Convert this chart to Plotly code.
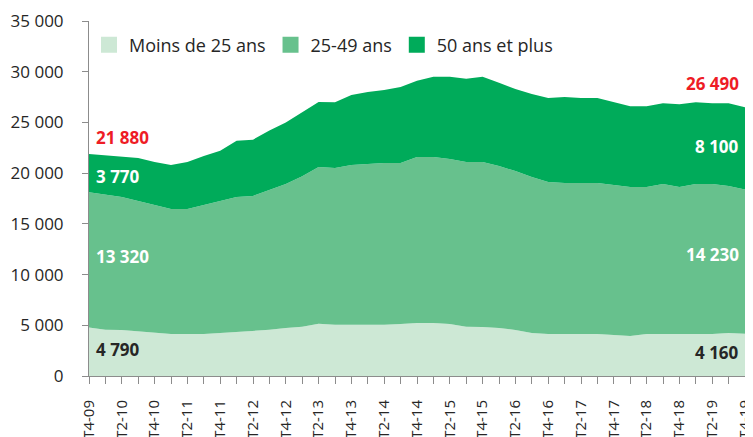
import plotly.graph_objects as go

quarters = [
    "T4-09", "T1-10", "T2-10", "T3-10", "T4-10", "T1-11", "T2-11", "T3-11", "T4-11",
    "T1-12", "T2-12", "T3-12", "T4-12", "T1-13", "T2-13", "T3-13", "T4-13",
    "T1-14", "T2-14", "T3-14", "T4-14", "T1-15", "T2-15", "T3-15", "T4-15",
    "T1-16", "T2-16", "T3-16", "T4-16", "T1-17", "T2-17", "T3-17", "T4-17",
    "T1-18", "T2-18", "T3-18", "T4-18", "T1-19", "T2-19", "T3-19", "T4-19",
]
tick_labels = [
    "T4-09", "", "T2-10", "", "T4-10", "", "T2-11", "", "T4-11",
    "", "T2-12", "", "T4-12", "", "T2-13", "", "T4-13",
    "", "T2-14", "", "T4-14", "", "T2-15", "", "T4-15",
    "", "T2-16", "", "T4-16", "", "T2-17", "", "T4-17",
    "", "T2-18", "", "T4-18", "", "T2-19", "", "T4-19",
]

moins_25 = [4790, 4560, 4540, 4400, 4250, 4150, 4150, 4150, 4250, 4350, 4450, 4550, 4730,
            4850, 5150, 5050, 5050, 5050, 5050, 5130, 5230, 5230, 5130, 4850, 4830, 4730,
            4540, 4240, 4140, 4140, 4140, 4140, 4040, 3950, 4140, 4140, 4140, 4140, 4140,
            4240, 4160]
age_25_49 = [13320, 13290, 13110, 12850, 12610, 12320, 12320, 12710, 13000, 13300, 13300,
             13790, 14200, 14850, 15450, 15450, 15750, 15850, 15950, 15870, 16370, 16370,
             16270, 16250, 16270, 15970, 15660, 15380, 14990, 14890, 14890, 14890, 14790,
             14690, 14500, 14790, 14500, 14790, 14790, 14500, 14230]
plus_50 = [3770, 3900, 3950, 4250, 4240, 4330, 4630, 4840, 4950, 5550, 5550, 5860, 6070,
           6300, 6420, 6500, 6900, 7100, 7200, 7500, 7500, 7900, 8100, 8200, 8400, 8200,
           8100, 8180, 8270, 8470, 8370, 8370, 8170, 7960, 7960, 7970, 8160, 8070, 7970,
           8160, 8100]

series_names = ["Moins de 25 ans", "25-49 ans", "50 ans et plus"]
series_values = [moins_25, age_25_49, plus_50]
colors = ["#CDE8D5", "#67C18D", "#00AB5A"]

y_ticks = [0, 5000, 10000, 15000, 20000, 25000, 30000, 35000]

FONT = "Open Sans"

fig = go.Figure()
for name, vals, col in zip(series_names, series_values, colors):
    fig.add_trace(go.Scatter(
        x=quarters, y=vals, name=name, stackgroup="one", mode="lines",
        line=dict(width=0, color=col), fillcolor=col, showlegend=False,
        hoverinfo="x+y+name",
    ))
for name, col in zip(series_names, colors):
    fig.add_trace(go.Scatter(
        x=[None], y=[None], name=name, mode="markers",
        marker=dict(symbol="square", size=16, color=col), showlegend=True,
    ))


def fmt(v):
    return f"{v:,}".replace(",", " ")


first, last = 0, len(quarters) - 1

anns = []
for idx, xanchor, xshift in [(first, "left", 5), (last, "right", -4)]:
    a, b, c = moins_25[idx], age_25_49[idx], plus_50[idx]
    tot = a + b + c
    anns.append(dict(x=quarters[idx], y=tot, text=f"<b>{fmt(tot)}</b>", xanchor=xanchor,
                     yanchor="bottom", xshift=xshift, yshift=(3 if idx == first else 10),
                     font=dict(color="#EE1C25", size=17, family=FONT), showarrow=False))
    anns.append(dict(x=quarters[idx], y=a + b + c / 2, text=f"<b>{fmt(c)}</b>", xanchor=xanchor,
                     yanchor="middle", xshift=xshift, yshift=(-3 if idx == first else 2),
                     font=dict(color="white", size=17, family=FONT), showarrow=False))
    anns.append(dict(x=quarters[idx], y=a + b / 2, text=f"<b>{fmt(b)}</b>", xanchor=xanchor,
                     yanchor="middle", xshift=xshift, yshift=(3 if idx == first else 7),
                     font=dict(color="white", size=17, family=FONT), showarrow=False))
    anns.append(dict(x=quarters[idx], y=a / 2, text=f"<b>{fmt(a)}</b>", xanchor=xanchor,
                     yanchor="middle", xshift=xshift, yshift=2,
                     font=dict(color="#262626", size=17, family=FONT), showarrow=False))

fig.update_layout(
    width=745, height=429,
    margin=dict(l=81, r=8, t=13, b=61, autoexpand=False),
    paper_bgcolor="white", plot_bgcolor="white",
    separators=", ",
    font=dict(family=FONT, color="#262626"),
    showlegend=True,
    legend=dict(orientation="h", x=0.0, xanchor="left", y=0.932, yanchor="middle",
                font=dict(size=18, family=FONT, color="#262626"),
                bgcolor="rgba(0,0,0,0)", traceorder="normal"),
    annotations=anns,
    xaxis=dict(
        type="category", range=[first, last], automargin=False,
        tickmode="array", tickvals=quarters, ticktext=tick_labels,
        tickangle=-90, ticks="outside", ticklen=7, tickcolor="#8C8C8C",
        ticklabelstandoff=10,
        showline=True, linecolor="#8C8C8C", linewidth=1,
        showgrid=False, zeroline=False,
        tickfont=dict(size=15, family=FONT, color="#262626"),
    ),
    yaxis=dict(
        range=[0, 35000], tickmode="array", tickvals=y_ticks, automargin=False,
        tickformat=",d", ticks="outside", ticklen=6, tickcolor="#8C8C8C",
        ticklabelstandoff=15,
        showline=True, linecolor="#8C8C8C", linewidth=1,
        showgrid=False, zeroline=False,
        tickfont=dict(size=17, family=FONT, color="#262626"),
    ),
)

fig.write_html("out.html")
